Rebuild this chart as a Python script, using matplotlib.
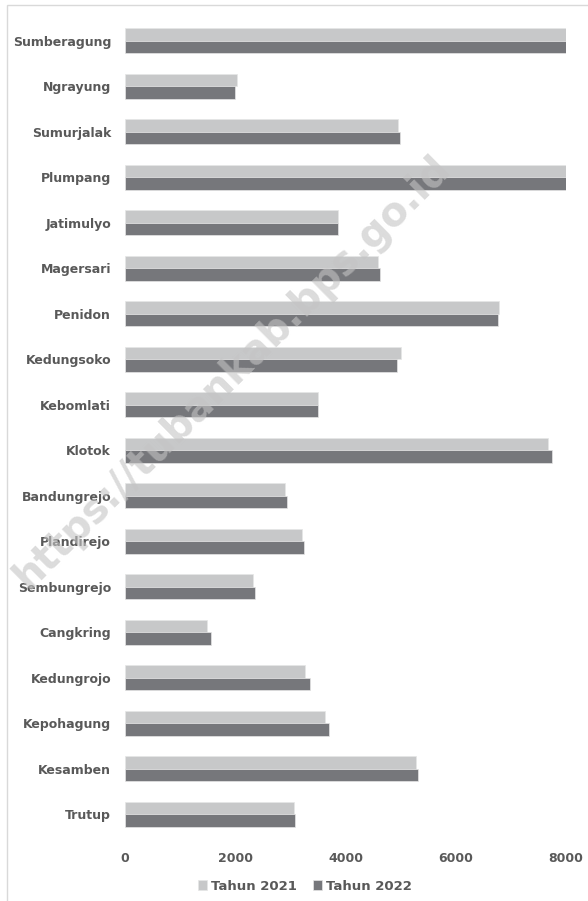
import numpy as np
import matplotlib
matplotlib.use("Agg")
import matplotlib.pyplot as plt
from matplotlib.patches import Rectangle

desa = ['Sumberagung', 'Ngrayung', 'Sumurjalak', 'Plumpang', 'Jatimulyo',
        'Magersari', 'Penidon', 'Kedungsoko', 'Kebomlati', 'Klotok',
        'Bandungrejo', 'Plandirejo', 'Sembungrejo', 'Cangkring',
        'Kedungrojo', 'Kepohagung', 'Kesamben', 'Trutup']
tahun_2021 = [8000, 2040, 4960, 8000, 3860, 4590, 6780, 5000, 3500, 7670,
              2900, 3210, 2320, 1490, 3260, 3620, 5270, 3070]
tahun_2022 = [8000, 2000, 4990, 8000, 3860, 4630, 6760, 4940, 3500, 7750,
              2930, 3240, 2360, 1560, 3360, 3700, 5310, 3090]
xticks = [0, 2000, 4000, 6000, 8000]

c21 = '#c7c8c9'
c22 = '#76777b'
txt = '#595959'

fig = plt.figure(figsize=(5.88, 9.01), dpi=100)
# chart border (partly cropped in the source)
fig.patches.append(Rectangle((7 / 588, -0.1), 1.2, 1 - 4.5 / 901 + 0.1,
                             transform=fig.transFigure, fill=False,
                             edgecolor='#d9d9d9', linewidth=1.0))

ax = fig.add_axes([125 / 588, 1 - 837 / 901, 441 / 588, 819 / 901])
y = np.arange(len(desa))
h = 0.27
ax.barh(y - h / 2, tahun_2021, height=h, color=c21, edgecolor='#e6e6e6',
        linewidth=0.5, label='Tahun 2021')
ax.barh(y + h / 2, tahun_2022, height=h, color=c22, edgecolor='#e6e6e6',
        linewidth=0.5, label='Tahun 2022')

ax.set_ylim(len(desa) - 0.5, -0.5)
ax.set_xlim(0, 8000)
ax.set_yticks(y)
ax.set_yticklabels(desa, fontsize=9, fontweight='bold', color=txt)
ax.set_xticks(xticks)
ax.set_xticklabels([str(v) for v in xticks], fontsize=9, fontweight='bold', color=txt)
ax.tick_params(length=0, pad=10, axis='y')
ax.tick_params(length=0, pad=11, axis='x')
for s in ax.spines.values():
    s.set_visible(False)

leg = fig.legend(loc='center', bbox_to_anchor=(0.518, 1 - 886 / 901), ncol=2,
                 frameon=False, fontsize=9.5, handlelength=0.7, handleheight=0.7,
                 handletextpad=0.3, columnspacing=1.2)
for t in leg.get_texts():
    t.set_color(txt)
    t.set_fontweight('bold')

# watermark
fig.text(233 / 588, 1 - 372 / 901, 'https://tubankab.bps.go.id', rotation=44.8,
         ha='center', va='center', fontsize=28.5, fontweight='bold',
         color='#c4c4c4', alpha=0.6, zorder=10)

fig.savefig('out.png', dpi=100)
